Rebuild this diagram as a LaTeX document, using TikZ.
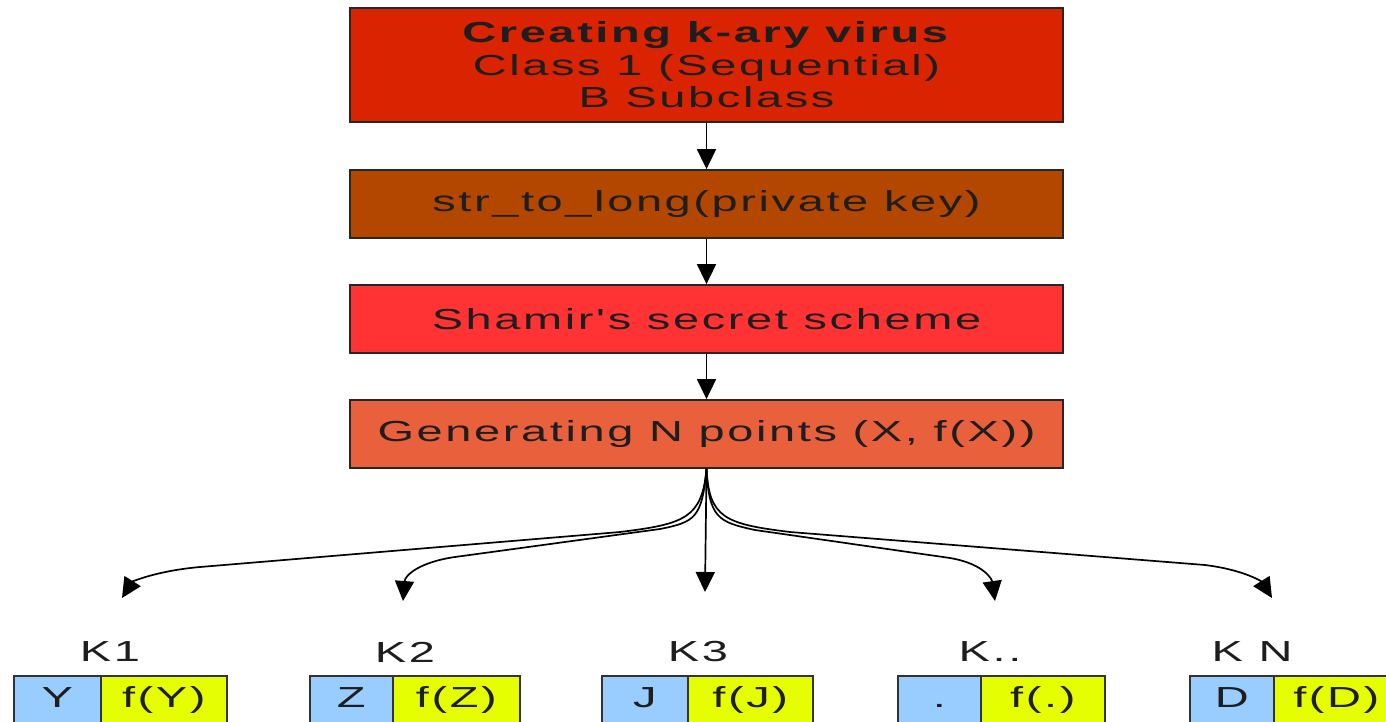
\documentclass[tikz,border=0pt]{standalone}
\usepackage{fontspec}
\usepackage{graphicx}
\usetikzlibrary{arrows.meta}
\newfontfamily\labfont{Liberation Sans}[FakeStretch=1.62,LetterSpace=9]
\definecolor{cA}{RGB}{218,35,0}
\definecolor{cB}{RGB}{180,71,0}
\definecolor{cC}{RGB}{255,51,51}
\definecolor{cD}{RGB}{233,96,60}
\definecolor{cBlue}{RGB}{153,204,255}
\definecolor{cYel}{RGB}{229,255,0}
\definecolor{txt}{RGB}{30,30,30}
\tikzset{
  mainbox/.style={draw=black!85, line width=1.8pt, inner sep=0pt, minimum width=713pt,
    text=txt, align=center, font=\labfont\fontsize{29}{32.5}\selectfont},
  cell/.style={draw=black!80, line width=1.6pt, inner xsep=0pt, inner ysep=0pt,
    text height=32pt, text depth=40pt, anchor=north west, text=txt,
    font=\labfont\fontsize{29}{32}\selectfont},
  klabel/.style={text=txt, inner sep=0pt, font=\labfont\fontsize{29}{32}\selectfont},
  conn/.style={line width=1.7pt, draw=black, -{Triangle[width=19pt,length=20pt]}},
}
\begin{document}
\begin{tikzpicture}[x=1pt,y=-1pt]
\useasboundingbox[fill=white] (0,0) rectangle (1386,722);
\node[mainbox, fill=cA, minimum height=114pt] (n1) at (706.5,65)
  {\textbf{Creating k-ary virus}\\Class 1 (Sequential)\\B Subclass};
\node[mainbox, fill=cB, minimum height=68pt] (n2) at (706.5,204) {str\_to\_long(private key)};
\node[mainbox, fill=cC, minimum height=68pt] (n3) at (706.5,319) {Shamir's secret scheme};
\node[mainbox, fill=cD, minimum height=68pt] (n4) at (706.5,434) {Generating N points (X, f(X))};
\draw[conn] (n1) -- (n2);
\draw[conn] (n2) -- (n3);
\draw[conn] (n3) -- (n4);
% fan targets
\coordinate (t1) at (122,598);
\coordinate (t2) at (403,601);
\coordinate (t3) at (705,592);
\coordinate (t4) at (995,601);
\coordinate (t5) at (1272,598);
\draw[conn] (n4.south) .. controls (702,518) and (685,524) .. (620,532) -- (200,567)
  .. controls (155,571) and (132,582) .. (t1);
\draw[conn] (n4.south) .. controls (702,518) and (695,522) .. (660,529) -- (455,557)
  .. controls (420,562) and (405,575) .. (t2);
\draw[conn] (n4.south) -- (t3);
\draw[conn] (n4.south) .. controls (709,518) and (718,522) .. (755,530) -- (950,558)
  .. controls (985,564) and (992,580) .. (t4);
\draw[conn] (n4.south) .. controls (709,518) and (725,524) .. (790,532) -- (1205,565)
  .. controls (1245,570) and (1262,582) .. (t5);
% labels
\node[klabel] (k1) at (110,652) {K1};
\node[klabel] (k2) at (405,652) {K2};
\node[klabel] (k3) at (698,652) {K3};
\node[klabel] (k4) at (990,652) {K..};
\node[klabel] (k5) at (1252,652) {K N};
% cells
\node[cell, fill=cBlue, minimum width=87pt] (a1) at (13,675) {Y};
\node[cell, fill=cYel, minimum width=126pt] (b1) at (100,675) {f(Y)};
\node[cell, fill=cBlue, minimum width=83pt] (a2) at (309,675) {Z};
\node[cell, fill=cYel, minimum width=127pt] (b2) at (392,675) {f(Z)};
\node[cell, fill=cBlue, minimum width=86pt] (a3) at (601,675) {J};
\node[cell, fill=cYel, minimum width=125pt] (b3) at (687,675) {f(J)};
\node[cell, fill=cBlue, minimum width=83pt] (a4) at (897,675) {.};
\node[cell, fill=cYel, minimum width=124pt] (b4) at (980,675) {f(.)};
\node[cell, fill=cBlue, minimum width=84pt] (a5) at (1189,675) {D};
\node[cell, fill=cYel, minimum width=125pt] (b5) at (1273,675) {f(D)};
\end{tikzpicture}
\end{document}
